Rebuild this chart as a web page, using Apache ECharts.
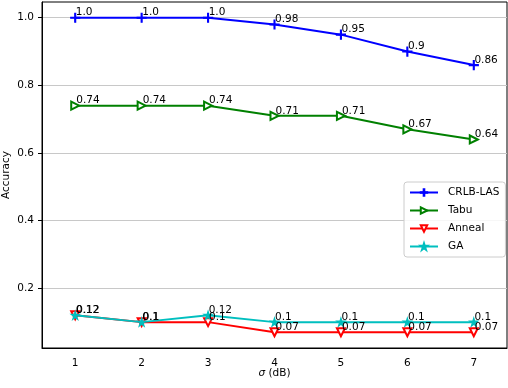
<!DOCTYPE html>
<html><head><meta charset="utf-8">
<script src="https://cdn.jsdelivr.net/npm/echarts@6/dist/echarts.min.js"></script>
<style>html,body{margin:0;padding:0;background:#fff}#c{width:508px;height:388px}</style>
</head><body><div id="c"></div>
<script>
var categories = ['1','2','3','4','5','6','7'];
var crlb = [1.0, 1.0, 1.0, 0.98, 0.95, 0.9, 0.86];
var tabu = [0.74, 0.74, 0.74, 0.71, 0.71, 0.67, 0.64];
var anneal = [0.12, 0.1, 0.1, 0.07, 0.07, 0.07, 0.07];
var ga = [0.12, 0.1, 0.12, 0.1, 0.1, 0.1, 0.1];
var yTicks = [0.2, 0.4, 0.6, 0.8, 1.0];

var FONT = 'DejaVu Sans';
var plus = 'path://M-0.1,-1H0.1V1H-0.1Z M-1,-0.1H1V0.1H-1Z';
var star = 'path://M0,-1L0.2245,-0.309L0.951,-0.309L0.3633,0.118L0.5878,0.809L0,0.382L-0.5878,0.809L-0.3633,0.118L-0.951,-0.309L-0.2245,-0.309Z';
function fmt(p){var v=p.value;return Number.isInteger(v)?v.toFixed(1):String(v);}
function mk(name,data,color,symbol,size,rot){
  return {name:name,type:'line',data:data,symbol:symbol,symbolSize:size,symbolRotate:rot||0,
    showAllSymbol:true,
    lineStyle:{color:color,width:2},itemStyle:{color:color,borderColor:color,borderWidth:1.2},
    label:{show:true,position:'right',distance:0,offset:[-size/2,-5],formatter:fmt,
      color:'#000',fontFamily:FONT,fontSize:10.5},
    emphasis:{disabled:true},animation:false,z:3};
}
var chart = echarts.init(document.getElementById('c'));
chart.setOption({
  animation:false,
  grid:{left:42,right:1,top:2,bottom:40,outerBoundsMode:'none',containLabel:false,
    show:true,borderColor:'#000',borderWidth:1,backgroundColor:'transparent'},
  xAxis:{type:'category',data:categories,boundaryGap:true,
    name:'{i|σ} (dB)',nameLocation:'middle',nameGap:20,nameMoveOverlap:false,
    nameTextStyle:{fontFamily:FONT,fontSize:10.5,color:'#000',
      rich:{i:{fontFamily:FONT,fontSize:10.5,fontStyle:'italic',color:'#000'}}},
    axisLine:{lineStyle:{color:'#000',width:1}},
    axisTick:{alignWithLabel:true,length:4,lineStyle:{color:'#000'}},
    axisLabel:{fontFamily:FONT,fontSize:10.5,color:'#000',margin:10},
    splitLine:{show:false}},
  yAxis:{type:'value',min:0.0235,max:1.0465,
    name:'Accuracy',nameLocation:'middle',nameGap:30,nameMoveOverlap:false,
    nameTextStyle:{fontFamily:FONT,fontSize:10.5,color:'#000'},
    axisLine:{show:true,lineStyle:{color:'#000',width:1}},
    axisTick:{show:true,length:4,lineStyle:{color:'#000'},customValues:yTicks},
    axisLabel:{fontFamily:FONT,fontSize:10.5,color:'#000',margin:8,customValues:yTicks,
      formatter:function(v){return v.toFixed(1);}},
    splitLine:{show:true,lineStyle:{color:'#c8c8c8',width:1}}},
  legend:{orient:'vertical',left:404,top:182,padding:[5,6,5,5],itemGap:7,itemWidth:28,itemHeight:8,
    borderColor:'#ccc',borderWidth:1,borderRadius:3,backgroundColor:'rgba(255,255,255,0.85)',
    textStyle:{fontFamily:FONT,fontSize:10.5,color:'#000',padding:[0,0,0,5]},
    data:['CRLB-LAS','Tabu','Anneal','GA']},
  series:[
    mk('CRLB-LAS',crlb,'#0000ff',plus,9,0),
    mk('Tabu',tabu,'#008000','emptyTriangle',8,-90),
    mk('Anneal',anneal,'#ff0000','emptyTriangle',8,180),
    mk('GA',ga,'#00bfbf',star,8,0)
  ]
});
</script></body></html>
